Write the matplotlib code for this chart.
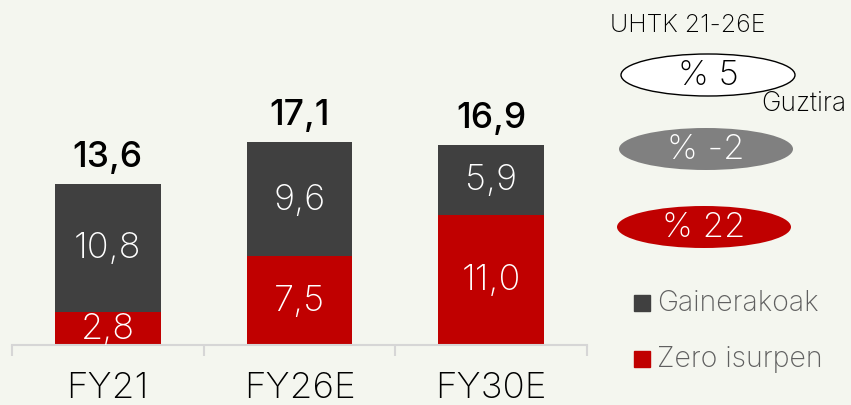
import matplotlib.pyplot as plt
from matplotlib.patches import Ellipse, Rectangle
import numpy as np

plt.rcParams['font.family'] = ['Inter', 'DejaVu Sans']

# data
categories = ['FY21', 'FY26E', 'FY30E']
zero_isurpen = [2.8, 7.5, 11.0]
gainerakoak = [10.8, 9.6, 5.9]
totals = [13.6, 17.1, 16.9]
cagr_labels = ['% 5', '% -2', '% 22']
legend_labels = ['Gainerakoak', 'Zero isurpen']

BG = '#f4f6ef'
RED = '#c00000'
DARK = '#404040'
GREY = '#808080'
AXIS = '#d6d6d6'

fig = plt.figure(figsize=(8.51, 4.06), dpi=100, facecolor=BG)

# ---- bar chart ----
ax = fig.add_axes([12 / 851, 60 / 406, 575 / 851, 326 / 406])
ax.set_facecolor('none')
x = np.arange(len(categories))
w = 0.55
ax.bar(x, zero_isurpen, width=w, color=RED)
ax.bar(x, gainerakoak, width=w, bottom=zero_isurpen, color=DARK)

for i in range(len(categories)):
    ax.text(x[i], zero_isurpen[i] / 2, f"{zero_isurpen[i]:.1f}".replace('.', ','),
            ha='center', va='center', color='white', fontsize=26, fontweight='light')
    ax.text(x[i], zero_isurpen[i] + gainerakoak[i] / 2,
            f"{gainerakoak[i]:.1f}".replace('.', ','),
            ha='center', va='center', color='white', fontsize=26, fontweight='light')
    ax.annotate(f"{totals[i]:.1f}".replace('.', ','), (x[i], totals[i]),
                xytext=(0, 8), textcoords='offset points', ha='center', va='bottom',
                fontsize=25.5, fontweight='medium', color='black')

ax.set_xlim(-0.5, 2.5)
ax.set_ylim(0, 27.5)
ax.set_xticks([-0.5, 0.5, 1.5, 2.5])
ax.set_xticklabels([])
ax.set_xticks(x, minor=True)
ax.set_xticklabels(categories, minor=True, fontsize=26.5, fontweight='light')
ax.tick_params(axis='x', which='major', direction='out', length=8, width=1.5, color=AXIS)
ax.tick_params(axis='x', which='minor', length=0, pad=19)
ax.set_yticks([])
for s in ['top', 'right', 'left']:
    ax.spines[s].set_visible(False)
ax.spines['bottom'].set_color(AXIS)
ax.spines['bottom'].set_linewidth(1.5)

# ---- right side annotations (pixel coordinates) ----
ov = fig.add_axes([0, 0, 1, 1])
ov.set_xlim(0, 851)
ov.set_ylim(406, 0)
ov.axis('off')
ov.patch.set_alpha(0)

ov.text(610, 26, 'UHTK 21-26E', fontsize=18, ha='left', va='center', fontweight='light')

ell_y = [76, 150, 228]
ell_x = [708, 706, 704]
ell_fc = ['white', GREY, RED]
ell_tc = ['black', 'white', 'white']
for i in range(3):
    ec = 'black' if i == 0 else 'none'
    ov.add_patch(Ellipse((ell_x[i], ell_y[i]), 174, 42, facecolor=ell_fc[i],
                         edgecolor=ec, linewidth=1))
    ov.text(ell_x[i], ell_y[i], cagr_labels[i], ha='center', va='center',
            fontsize=25, color=ell_tc[i], fontweight='light')

ov.text(846, 104, 'Guztira', ha='right', va='center', fontsize=19, fontweight='light')

leg_y = [304, 360]
leg_c = [DARK, RED]
for i in range(2):
    ov.add_patch(Rectangle((634, leg_y[i] - 8), 16, 16, color=leg_c[i]))
    ov.text(657, leg_y[i], legend_labels[i], ha='left', va='center', fontsize=20.5,
            color='#606060', fontweight='light')

fig.savefig('out.png', dpi=100, facecolor=BG)
